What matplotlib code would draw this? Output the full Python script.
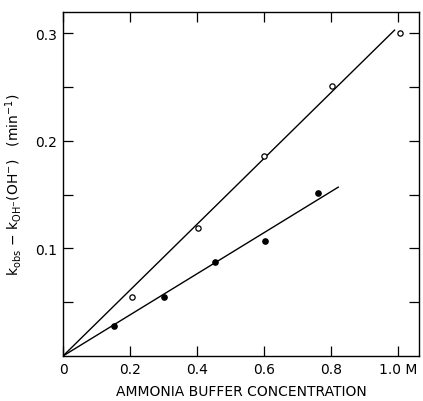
import matplotlib
matplotlib.use('Agg')
import matplotlib.pyplot as plt

# open circles and filled circles
conc_open = [0.205, 0.403, 0.601, 0.804, 1.005]
k_open = [0.055, 0.119, 0.186, 0.251, 0.300]
conc_filled = [0.152, 0.302, 0.455, 0.604, 0.761]
k_filled = [0.028, 0.055, 0.087, 0.107, 0.152]

# fitted lines drawn through the origin
line_open_x = [0.0, 0.99]
line_open_y = [0.0, 0.303]
line_filled_x = [0.0, 0.822]
line_filled_y = [0.0, 0.157]

xticks = [0, 0.2, 0.4, 0.6, 0.8, 1.0]
xticklabels = ['0', '0.2', '0.4', '0.6', '0.8', '1.0 M']
yticks = [0.1, 0.2, 0.3]
yticklabels = ['0.1', '0.2', '0.3']
yminor = [0.05, 0.15, 0.25]

plt.rcParams['font.family'] = ['DejaVu Sans']
fig = plt.figure(figsize=(4.23, 4.02), dpi=100)
ax = fig.add_axes([0.149, 0.112, 0.8415, 0.856])

ax.plot(line_open_x, line_open_y, color='black', lw=1.0)
ax.plot(line_filled_x, line_filled_y, color='black', lw=1.0)
ax.plot(conc_open, k_open, 'o', mfc='white', mec='black', ms=3.8, mew=0.9)
ax.plot(conc_filled, k_filled, 'o', mfc='black', mec='black', ms=3.8)

ax.set_xlim(0, 1.063)
ax.set_ylim(0, 0.32)
ax.set_xticks(xticks)
ax.set_xticklabels(xticklabels)
ax.set_yticks(yticks)
ax.set_yticklabels(yticklabels)
ax.set_yticks(yminor, minor=True)
ax.tick_params(which='both', direction='in', top=True, right=True,
               length=7, width=0.9, labelsize=10, pad=4)
for s in ax.spines.values():
    s.set_linewidth(1.0)

ax.set_xlabel('AMMONIA BUFFER CONCENTRATION', fontsize=10, labelpad=6)
ax.set_ylabel(r'k$_{\mathregular{obs}}$ $-$ k$_{\mathregular{OH^{-}}}$(OH$^{-}$)   (min$^{-1}$)',
              fontsize=10, labelpad=8)

fig.savefig('out.png', dpi=100)
